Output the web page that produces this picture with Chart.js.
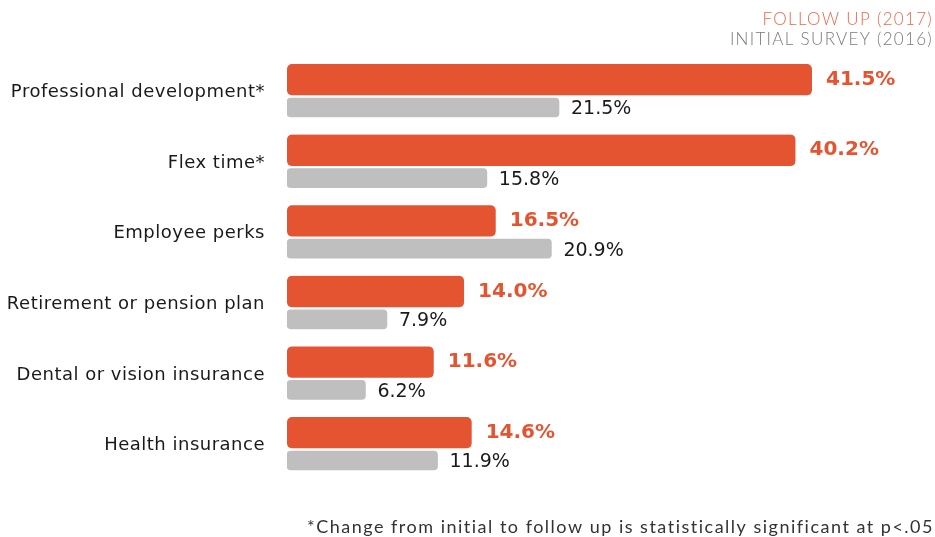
<!DOCTYPE html>
<html>
<head>
<meta charset="utf-8">
<script src="https://cdn.jsdelivr.net/npm/chart.js@4.4.1/dist/chart.umd.min.js"></script>
<style>
  html, body { margin: 0; padding: 0; background: #ffffff; }
  #wrap { position: relative; width: 935px; height: 537px; }
</style>
</head>
<body>
<div id="wrap"><canvas id="chart"></canvas></div>
<script>
// Benefits employees value, initial survey vs. follow up
const categories = [
  'Professional development*',
  'Flex time*',
  'Employee perks',
  'Retirement or pension plan',
  'Dental or vision insurance',
  'Health insurance'
];
const followUp2017 = [41.5, 40.2, 16.5, 14.0, 11.6, 14.6];
const initial2016 = [21.5, 15.8, 20.9, 7.9, 6.2, 11.9];
const seriesNames = ['FOLLOW UP (2017)', 'INITIAL SURVEY (2016)'];
const footnote = '*Change from initial to follow up is statistically significant at p<.05';

const ORANGE = '#E55431';
const GREY_BAR = '#BFBFBF';
const TEXT_DARK = '#1a1a1a';

// Slightly open tracking for the category names on the y axis
const axisTracking = {
  id: 'axisTracking',
  beforeDraw(chart) { chart.ctx.letterSpacing = '0.5px'; },
  beforeDatasetsDraw(chart) { chart.ctx.letterSpacing = '0px'; }
};

// Percent labels to the right of every bar
const valueLabels = {
  id: 'valueLabels',
  afterDatasetsDraw(chart) {
    const ctx = chart.ctx;
    chart.data.datasets.forEach((ds, di) => {
      const meta = chart.getDatasetMeta(di);
      meta.data.forEach((el, i) => {
        const v = ds.data[i];
        ctx.save();
        ctx.letterSpacing = '0px';
        ctx.textAlign = 'left';
        ctx.textBaseline = 'middle';
        if (di === 0) {
          ctx.font = 'bold 20px "DejaVu Sans"';
          ctx.fillStyle = ORANGE;
          ctx.fillText(v.toFixed(1) + '%', el.x + 14, el.y - 1.5);
        } else {
          ctx.font = '19px "DejaVu Sans"';
          ctx.fillStyle = TEXT_DARK;
          ctx.fillText(v.toFixed(1) + '%', el.x + 12, el.y + 2);
        }
        ctx.restore();
      });
    });
  }
};

// Series key at the top right and the significance note at the bottom
const keyAndNote = {
  id: 'keyAndNote',
  afterDraw(chart) {
    const ctx = chart.ctx;
    const right = chart.width - 2;
    ctx.save();
    ctx.textAlign = 'right';
    ctx.textBaseline = 'alphabetic';
    ctx.font = '300 17px Lato, "Open Sans", sans-serif';
    ctx.letterSpacing = '1.3px';
    ctx.fillStyle = '#E8684A';
    ctx.fillText(seriesNames[0], right, 25);
    ctx.fillStyle = '#7a7a7a';
    ctx.fillText(seriesNames[1], right, 45);
    ctx.font = '400 18px Lato, "Open Sans", sans-serif';
    ctx.letterSpacing = '1.5px';
    ctx.fillStyle = '#333333';
    ctx.fillText(footnote, right + 1, 533);
    ctx.restore();
  }
};

new Chart(document.getElementById('chart'), {
  type: 'bar',
  data: {
    labels: categories,
    datasets: [
      {
        label: seriesNames[0],
        data: followUp2017,
        backgroundColor: ORANGE,
        borderColor: 'rgba(0,0,0,0)',
        borderWidth: { top: 0, right: 0, bottom: 3, left: 0 },
        borderSkipped: false,
        borderRadius: { topLeft: 5, topRight: 5, bottomLeft: 8, bottomRight: 8 },
        barThickness: 34
      },
      {
        label: seriesNames[1],
        data: initial2016,
        backgroundColor: GREY_BAR,
        borderWidth: 0,
        borderSkipped: false,
        borderRadius: 4,
        barThickness: 19
      }
    ]
  },
  options: {
    indexAxis: 'y',
    responsive: true,
    maintainAspectRatio: false,
    animation: false,
    layout: { padding: { left: 0, right: 15.5, top: 62.7, bottom: 50.7 } },
    plugins: {
      legend: { display: false },
      tooltip: { enabled: false }
    },
    scales: {
      x: { display: false, min: 0, max: 50 },
      y: {
        grid: { display: false, drawTicks: false },
        border: { display: false },
        ticks: {
          padding: 22,
          labelOffset: -5.5,
          color: TEXT_DARK,
          font: { family: '"DejaVu Sans"', size: 18 }
        },
        afterFit(scale) { scale.width = 287; }
      }
    }
  },
  plugins: [axisTracking, valueLabels, keyAndNote]
});
</script>
</body>
</html>
